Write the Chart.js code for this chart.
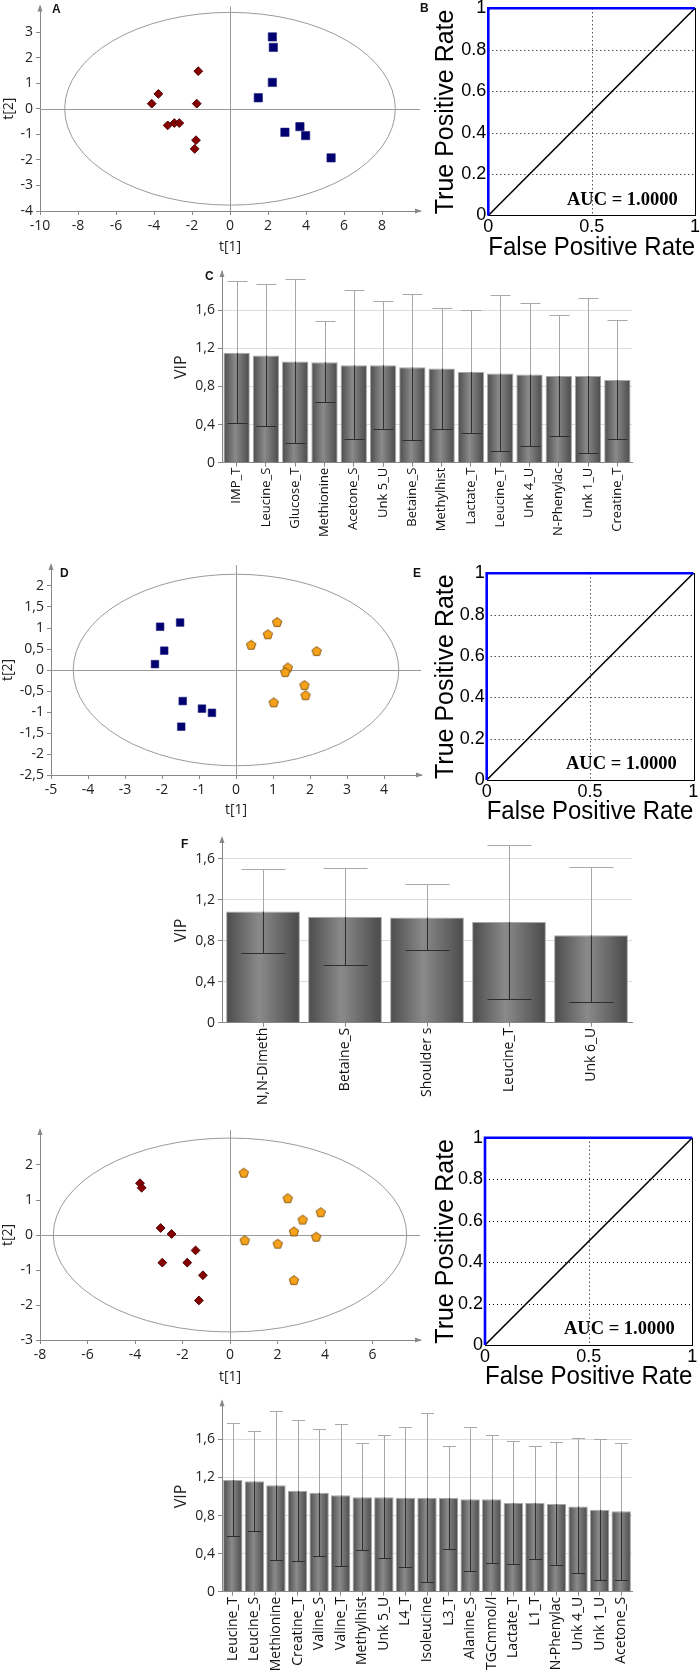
<!DOCTYPE html>
<html>
<head>
<meta charset="utf-8">
<script src="https://cdn.jsdelivr.net/npm/chart.js@4.4.1/dist/chart.umd.min.js"></script>
<style>
  body { margin: 0; background: #fff; width: 700px; height: 1677px; position: relative; overflow: hidden; }
  .panel { position: absolute; }
  .tag { position: absolute; font: bold 12px 'Liberation Sans', Arial, sans-serif; line-height: 12px; color: #111; }
  .auc { position: absolute; font: bold 18.5px 'Liberation Serif', 'Times New Roman', serif; line-height: 18.5px; white-space: nowrap; color: #000; }
</style>
</head>
<body>
<div class="panel" style="left:0;top:0;width:430px;height:260px"><canvas id="scoreA"></canvas></div>
<div class="panel" style="left:430px;top:0;width:270px;height:264px"><canvas id="rocB"></canvas></div>
<div class="panel" style="left:170px;top:265px;width:470px;height:285px"><canvas id="vipC"></canvas></div>
<div class="panel" style="left:0;top:555px;width:430px;height:270px"><canvas id="scoreD"></canvas></div>
<div class="panel" style="left:430px;top:565px;width:270px;height:263px"><canvas id="rocE"></canvas></div>
<div class="panel" style="left:170px;top:830px;width:470px;height:290px"><canvas id="vipF"></canvas></div>
<div class="panel" style="left:0;top:1120px;width:430px;height:270px"><canvas id="scoreG"></canvas></div>
<div class="panel" style="left:430px;top:1128px;width:270px;height:265px"><canvas id="rocH"></canvas></div>
<div class="panel" style="left:170px;top:1395px;width:470px;height:282px"><canvas id="vipI"></canvas></div>

<div class="tag" style="left:52px;top:3px">A</div>
<div class="tag" style="left:420px;top:2px">B</div>
<div class="tag" style="left:205px;top:270px">C</div>
<div class="tag" style="left:60px;top:567px">D</div>
<div class="tag" style="left:413px;top:567px">E</div>
<div class="tag" style="left:181px;top:838px">F</div>
<div class="auc" style="left:567px;top:190px">AUC = 1.0000</div>
<div class="auc" style="left:566px;top:754px">AUC = 1.0000</div>
<div class="auc" style="left:564px;top:1319px">AUC = 1.0000</div>

<script>
// --- score plots (t[1], t[2]) ---
const aRedT1 = [-1.67, -3.77, -4.12, -1.75, -3.28, -2.93, -2.67, -1.79, -1.86];
const aRedT2 = [1.47, 0.58, 0.20, 0.20, -0.65, -0.56, -0.56, -1.23, -1.57];
const aBlueT1 = [2.23, 2.28, 2.23, 1.49, 2.89, 3.68, 3.98, 5.32];
const aBlueT2 = [2.81, 2.40, 1.03, 0.43, -0.92, -0.70, -1.05, -1.92];
const aEllipse = [8.7, 3.77];
const aTicksX = [-10, -8, -6, -4, -2, 0, 2, 4, 6, 8];
const aTicksY = [-4, -3, -2, -1, 0, 1, 2, 3];

const dBlueT1 = [-2.05, -1.51, -1.94, -2.19, -1.44, -0.92, -0.65, -1.48];
const dBlueT2 = [1.03, 1.13, 0.46, 0.14, -0.74, -0.92, -1.02, -1.35];
const dOrangeT1 = [1.11, 0.86, 0.41, 2.18, 1.40, 1.33, 1.85, 1.88, 1.02];
const dOrangeT2 = [1.14, 0.85, 0.60, 0.45, 0.06, -0.05, -0.36, -0.60, -0.77];
const dEllipse = [4.4, 2.28];
const dTicksX = [-5, -4, -3, -2, -1, 0, 1, 2, 3, 4];
const dTicksY = [-2.5, -2, -1.5, -1, -0.5, 0, 0.5, 1, 1.5, 2];

const gRedT1 = [-3.79, -3.72, -2.92, -2.46, -1.45, -2.85, -1.80, -1.14, -1.31];
const gRedT2 = [1.48, 1.35, 0.20, 0.03, -0.44, -0.79, -0.79, -1.15, -1.87];
const gOrangeT1 = [0.58, 2.43, 3.82, 3.06, 2.69, 3.63, 0.62, 2.01, 2.69];
const gOrangeT2 = [1.78, 1.05, 0.65, 0.44, 0.10, -0.05, -0.15, -0.25, -1.29];
const gEllipse = [7.44, 2.77];
const gTicksX = [-8, -6, -4, -2, 0, 2, 4, 6];
const gTicksY = [-3, -2, -1, 0, 1, 2];

// --- ROC curves (same for B, E, H) ---
const rocFpr = [0, 0, 1];
const rocTpr = [0, 1, 1];
const chanceFpr = [0, 1];
const chanceTpr = [0, 1];
const rocTicksX = [0, 0.5, 1];
const rocTicksY = [0, 0.2, 0.4, 0.6, 0.8, 1];

// --- VIP bars ---
const cNames = ['IMP_T', 'Leucine_S', 'Glucose_T', 'Methionine', 'Acetone_S', 'Unk 5_U', 'Betaine_S', 'Methylhist', 'Lactate_T', 'Leucine_T', 'Unk 4_U', 'N-Phenylac', 'Unk 1_U', 'Creatine_T'];
const cVip = [1.152, 1.124, 1.061, 1.054, 1.022, 1.022, 1.001, 0.987, 0.952, 0.935, 0.924, 0.910, 0.910, 0.868];
const cLow = [0.413, 0.382, 0.203, 0.634, 0.245, 0.350, 0.235, 0.357, 0.308, 0.119, 0.179, 0.284, 0.098, 0.252];
const cHigh = [1.901, 1.873, 1.926, 1.481, 1.807, 1.698, 1.768, 1.621, 1.604, 1.758, 1.677, 1.544, 1.723, 1.495];

const fNames = ['N,N-Dimeth', 'Betaine_S', 'Shoulder s', 'Leucine_T', 'Unk 6_U'];
const fVip = [1.084, 1.032, 1.026, 0.981, 0.852];
const fLow = [0.681, 0.561, 0.706, 0.232, 0.197];
const fHigh = [1.497, 1.503, 1.348, 1.729, 1.516];

const iNames = ['Leucine_T', 'Leucine_S', 'Methionine', 'Creatine_T', 'Valine_S', 'Valine_T', 'Methylhist', 'Unk 5_U', 'L4_T', 'Isoleucine', 'L3_T', 'Alanine_S', 'TGCmmol/l', 'Lactate_T', 'L1_T', 'N-Phenylac', 'Unk 4_U', 'Unk 1_U', 'Acetone_S'];
const iVip = [1.173, 1.159, 1.117, 1.061, 1.040, 1.012, 0.991, 0.991, 0.987, 0.987, 0.984, 0.970, 0.970, 0.931, 0.931, 0.921, 0.896, 0.861, 0.844];
const iLow = [0.581, 0.634, 0.329, 0.319, 0.371, 0.266, 0.434, 0.350, 0.256, 0.105, 0.452, 0.221, 0.298, 0.294, 0.343, 0.284, 0.193, 0.123, 0.126];
const iHigh = [1.768, 1.691, 1.901, 1.807, 1.712, 1.765, 1.562, 1.642, 1.726, 1.873, 1.530, 1.726, 1.642, 1.579, 1.530, 1.569, 1.614, 1.604, 1.565];

const vipTicks = [0, 0.4, 0.8, 1.2, 1.6];

Chart.defaults.font.family = "'Open Sans', sans-serif";
Chart.defaults.color = '#1a1a1a';

const fmtComma = v => String(Math.round(v * 100) / 100).replace('.', ',');
const noPad = s => { s.paddingLeft = 0; s.paddingRight = 0; s.paddingTop = 0; s.paddingBottom = 0; };
const setTicks = arr => s => { s.ticks = arr.map(v => ({ value: v })); };
const pts = (xs, ys) => xs.map((v, i) => ({ x: v, y: ys[i] }));

// orange pentagon marker
const pentagon = (() => {
    const c = document.createElement('canvas');
    c.width = 12; c.height = 12;
    const g = c.getContext('2d');
    g.beginPath();
    for (let k = 0; k < 5; k++) {
        const a = -Math.PI / 2 + k * 2 * Math.PI / 5;
        g.lineTo(6 + 4.9 * Math.cos(a), 6.4 + 4.9 * Math.sin(a));
    }
    g.closePath();
    g.fillStyle = '#f7a21b'; g.fill();
    g.strokeStyle = '#7a4a00'; g.lineWidth = 0.9; g.stroke();
    return c;
})();

const redSet = (t1, t2) => ({ data: pts(t1, t2), pointStyle: 'rectRot', pointRadius: 4.4, backgroundColor: '#870000', borderColor: '#4d0000', borderWidth: 1 });
const blueSet = (t1, t2, r) => ({ data: pts(t1, t2), pointStyle: 'rect', pointRadius: r, backgroundColor: '#000070', borderColor: '#20207a', borderWidth: 0.6 });
const orangeSet = (t1, t2) => ({ data: pts(t1, t2), pointStyle: pentagon, pointRadius: 5 });

// zero lines, Hotelling ellipse, axis arrows
const scoreDecor = {
    id: 'scoreDecor',
    beforeDatasetsDraw(chart, args, opts) {
        const { ctx, chartArea: a, scales: { x, y } } = chart;
        const x0 = x.getPixelForValue(0), y0 = y.getPixelForValue(0);
        ctx.save();
        ctx.strokeStyle = '#9a9a9a'; ctx.lineWidth = 1;
        ctx.beginPath();
        ctx.moveTo(Math.round(x0) + 0.5, a.top); ctx.lineTo(Math.round(x0) + 0.5, a.bottom);
        ctx.moveTo(a.left, Math.round(y0) + 0.5); ctx.lineTo(a.right, Math.round(y0) + 0.5);
        ctx.stroke();
        const rx = x.getPixelForValue(opts.ellipse[0]) - x0;
        const ry = y0 - y.getPixelForValue(opts.ellipse[1]);
        ctx.beginPath();
        ctx.ellipse(x0, y0, rx, ry, 0, 0, 2 * Math.PI);
        ctx.stroke();
        ctx.restore();
    },
    afterDraw(chart) {
        const { ctx, chartArea: a } = chart;
        ctx.save();
        ctx.fillStyle = '#888';
        ctx.beginPath(); ctx.moveTo(a.left, a.top - 2); ctx.lineTo(a.left - 2.5, a.top + 5); ctx.lineTo(a.left + 2.5, a.top + 5); ctx.fill();
        ctx.beginPath(); ctx.moveTo(a.right + 2, a.bottom); ctx.lineTo(a.right - 5, a.bottom - 2.5); ctx.lineTo(a.right - 5, a.bottom + 2.5); ctx.fill();
        ctx.restore();
    }
};

function scoreChart(id, o) {
    return new Chart(document.getElementById(id), {
        type: 'scatter',
        data: { datasets: o.sets },
        options: {
            responsive: true, maintainAspectRatio: false, animation: false,
            layout: { padding: o.pad },
            plugins: { legend: { display: false }, tooltip: { enabled: false }, scoreDecor: { ellipse: o.ellipse } },
            scales: {
                x: {
                    min: o.xr[0], max: o.xr[1],
                    afterBuildTicks: setTicks(o.xt),
                    ticks: { font: { size: 14 }, color: '#222', padding: 3, maxRotation: 0, callback: fmtComma },
                    grid: { display: true, drawOnChartArea: false, drawTicks: true, tickLength: 4, tickColor: '#888' },
                    border: { display: true, color: '#888' },
                    title: { display: true, text: 't[1]', font: { size: 14 }, color: '#222', padding: { top: 0, bottom: o.tb } },
                    afterFit: s => { s.height = o.xh; noPad(s); }
                },
                y: {
                    min: o.yr[0], max: o.yr[1],
                    afterBuildTicks: setTicks(o.yt),
                    ticks: { font: { size: 14 }, color: '#222', padding: 3, callback: fmtComma },
                    grid: { display: true, drawOnChartArea: false, drawTicks: true, tickLength: 4, tickColor: '#888' },
                    border: { display: true, color: '#888' },
                    title: { display: true, text: 't[2]', font: { size: 14 }, color: '#222', padding: { top: o.tl, bottom: 0 } },
                    afterFit: s => { s.width = o.yw; noPad(s); }
                }
            }
        },
        plugins: [scoreDecor]
    });
}

// dotted grid + frame of the ROC box
const rocDecor = {
    id: 'rocDecor',
    beforeDatasetsDraw(chart) {
        const { ctx, chartArea: a, scales: { x, y } } = chart;
        ctx.save();
        ctx.strokeStyle = '#000'; ctx.lineWidth = 1; ctx.setLineDash([1, 3]);
        ctx.beginPath();
        y.ticks.forEach(t => {
            if (t.value > 0 && t.value < 1) {
                const py = Math.round(y.getPixelForValue(t.value)) + 0.5;
                ctx.moveTo(a.left, py); ctx.lineTo(a.right, py);
            }
        });
        x.ticks.forEach(t => {
            if (t.value > 0 && t.value < 1) {
                const px = Math.round(x.getPixelForValue(t.value)) + 0.5;
                ctx.moveTo(px, a.top); ctx.lineTo(px, a.bottom);
            }
        });
        ctx.stroke();
        ctx.setLineDash([]);
        ctx.strokeRect(Math.round(a.left) + 0.5, Math.round(a.top) + 0.5, Math.round(a.width), Math.round(a.height));
        ctx.restore();
    }
};

function rocChart(id, o) {
    const tickFont = { family: "'Liberation Sans', Arial, sans-serif", size: 18 };
    const titleFont = { family: "'Liberation Sans', Arial, sans-serif", size: 25 };
    return new Chart(document.getElementById(id), {
        type: 'scatter',
        data: {
            datasets: [
                { data: pts(rocFpr, rocTpr), showLine: true, borderColor: '#0000ff', borderWidth: 2.6, pointRadius: 0, clip: false },
                { data: pts(chanceFpr, chanceTpr), showLine: true, borderColor: '#000', borderWidth: 1.6, pointRadius: 0, clip: false }
            ]
        },
        options: {
            responsive: true, maintainAspectRatio: false, animation: false,
            layout: { padding: o.pad },
            plugins: { legend: { display: false }, tooltip: { enabled: false } },
            scales: {
                x: {
                    min: 0, max: 1,
                    afterBuildTicks: setTicks(rocTicksX),
                    ticks: { font: tickFont, color: '#000', padding: 1, maxRotation: 0, callback: v => String(v) },
                    grid: { display: false, drawTicks: false },
                    border: { display: false },
                    title: { display: true, text: 'False Positive Rate', font: titleFont, color: '#000', padding: { top: 0, bottom: 1 } },
                    afterFit: s => { s.height = o.xh; noPad(s); }
                },
                y: {
                    min: 0, max: 1,
                    afterBuildTicks: setTicks(rocTicksY),
                    ticks: { font: tickFont, color: '#000', padding: 2, callback: v => String(Math.round(v * 10) / 10) },
                    grid: { display: false, drawTicks: false },
                    border: { display: false },
                    title: { display: true, text: 'True Positive Rate', font: titleFont, color: '#000', padding: { top: 1, bottom: 0 } },
                    afterFit: s => { s.width = o.yw; noPad(s); }
                }
            }
        },
        plugins: [rocDecor]
    });
}

// shaded bar fill
function barFill(c) {
    const ch = c.chart;
    if (!ch.chartArea || c.type !== 'data') return '#6a6a6a';
    const xs = ch.scales.x;
    const cx = xs.getPixelForValue(c.dataIndex);
    const half = xs.width / ch.data.labels.length * 0.45;
    const g = ch.ctx.createLinearGradient(cx - half, 0, cx + half, 0);
    g.addColorStop(0, '#4c4c4c');
    g.addColorStop(0.45, '#8a8a8a');
    g.addColorStop(1, '#4a4a4a');
    return g;
}

// confidence intervals on VIP bars + y-axis arrow
const vipErrors = {
    id: 'vipErrors',
    afterDatasetsDraw(chart, args, opts) {
        const { ctx, scales: { y } } = chart;
        const bars = chart.getDatasetMeta(0).data;
        ctx.save();
        ctx.lineWidth = 1;
        bars.forEach((bar, i) => {
            const x = Math.round(bar.x) + 0.5;
            const yHi = Math.round(y.getPixelForValue(opts.hi[i])) + 0.5;
            const yLo = Math.round(y.getPixelForValue(opts.lo[i])) + 0.5;
            const yTop = bar.y;
            ctx.strokeStyle = '#a8a8a8';
            ctx.beginPath();
            ctx.moveTo(x, yHi); ctx.lineTo(x, yTop);
            ctx.moveTo(x - opts.cap, yHi); ctx.lineTo(x + opts.cap, yHi);
            ctx.stroke();
            ctx.strokeStyle = '#2e2e2e';
            ctx.beginPath();
            ctx.moveTo(x, yTop); ctx.lineTo(x, yLo);
            ctx.moveTo(x - opts.cap, yLo); ctx.lineTo(x + opts.cap, yLo);
            ctx.stroke();
        });
        ctx.restore();
    },
    afterDraw(chart) {
        const { ctx, chartArea: a } = chart;
        ctx.save();
        ctx.fillStyle = '#888';
        ctx.beginPath(); ctx.moveTo(a.left, a.top - 2); ctx.lineTo(a.left - 2.5, a.top + 5); ctx.lineTo(a.left + 2.5, a.top + 5); ctx.fill();
        ctx.restore();
    }
};

function vipChart(id, o) {
    return new Chart(document.getElementById(id), {
        type: 'bar',
        data: {
            labels: o.names,
            datasets: [{
                data: o.vip, backgroundColor: barFill, borderColor: '#a8a8a8',
                borderWidth: { top: 1, left: 1, right: 1, bottom: 0 },
                barPercentage: 0.9, categoryPercentage: 1
            }]
        },
        options: {
            responsive: true, maintainAspectRatio: false, animation: false,
            layout: { padding: o.pad },
            plugins: { legend: { display: false }, tooltip: { enabled: false }, vipErrors: { lo: o.lo, hi: o.hi, cap: o.cap } },
            scales: {
                x: {
                    ticks: { font: { size: o.fs }, color: '#111', padding: 1, minRotation: 90, maxRotation: 90, autoSkip: false },
                    grid: { display: true, drawOnChartArea: false, offset: false, tickLength: 4, tickColor: '#888' },
                    border: { display: true, color: '#888' },
                    afterFit: s => { s.height = o.xh; noPad(s); }
                },
                y: {
                    min: 0, max: o.ymax,
                    afterBuildTicks: setTicks(vipTicks),
                    ticks: { font: { size: 14 }, color: '#222', padding: 3, callback: fmtComma },
                    grid: { color: c => (c.tick && c.tick.value > 0 ? '#dcdcdc' : 'rgba(0,0,0,0)'), tickLength: 4, tickColor: '#888' },
                    border: { display: true, color: '#888' },
                    title: { display: true, text: 'VIP', font: { size: 16 }, color: '#222', padding: { top: 1.4, bottom: 0 } },
                    afterFit: s => { s.width = 52; noPad(s); }
                }
            }
        },
        plugins: [vipErrors]
    });
}

scoreChart('scoreA', {
    sets: [blueSet(aBlueT1, aBlueT2, 5.9), redSet(aRedT1, aRedT2)],
    ellipse: aEllipse, xr: [-10, 10], yr: [-4, 4], xt: aTicksX, yt: aTicksY,
    pad: { top: 1, right: 10, left: 0, bottom: 0 }, xh: 49, yw: 40, tb: 4.6, tl: 0.6
});
scoreChart('scoreD', {
    sets: [blueSet(dBlueT1, dBlueT2, 5.4), orangeSet(dOrangeT1, dOrangeT2)],
    ellipse: dEllipse, xr: [-5, 5], yr: [-2.5, 2.5], xt: dTicksX, yt: dTicksY,
    pad: { top: 10, right: 9, left: 0, bottom: 0 }, xh: 50, yw: 51, tb: 6.6, tl: 0
});
scoreChart('scoreG', {
    sets: [redSet(gRedT1, gRedT2), orangeSet(gOrangeT1, gOrangeT2)],
    ellipse: gEllipse, xr: [-8, 8], yr: [-3, 3], xt: gTicksX, yt: gTicksY,
    pad: { top: 10, right: 10, left: 0, bottom: 0 }, xh: 50, yw: 40, tb: 4.6, tl: 0
});

rocChart('rocB', { pad: { top: 8.3, right: 5, left: 0, bottom: 0 }, xh: 48.5, yw: 58.3 });
rocChart('rocE', { pad: { top: 8.3, right: 6.7, left: 0, bottom: 0 }, xh: 48, yw: 56.7 });
rocChart('rocH', { pad: { top: 9.7, right: 7.7, left: 0, bottom: 0 }, xh: 48, yw: 55 });

vipChart('vipC', { names: cNames, vip: cVip, lo: cLow, hi: cHigh, ymax: 2.0, cap: 10, fs: 13, xh: 87.3, pad: { top: 6.9, right: 8, left: 0, bottom: 0 } });
vipChart('vipF', { names: fNames, vip: fVip, lo: fLow, hi: fHigh, ymax: 1.8, cap: 22, fs: 14, xh: 97.3, pad: { top: 8, right: 8, left: 0, bottom: 0 } });
vipChart('vipI', { names: iNames, vip: iVip, lo: iLow, hi: iHigh, ymax: 2.0, cap: 6.5, fs: 14, xh: 85.3, pad: { top: 6.3, right: 8, left: 0, bottom: 0 } });
</script>
</body>
</html>
